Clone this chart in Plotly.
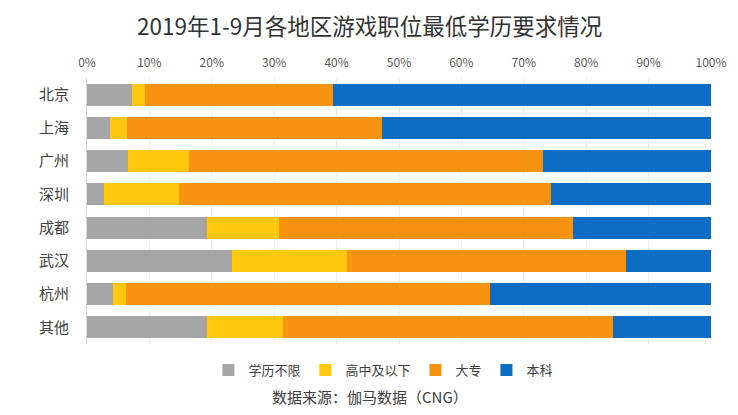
import plotly.graph_objects as go

# Regions (top to bottom) and share of each minimum-education requirement (%)
regions = ["北京", "上海", "广州", "深圳", "成都", "武汉", "杭州", "其他"]
no_limit = [7.2, 3.7, 6.6, 2.8, 19.2, 23.3, 4.2, 19.2]
high_school = [2.1, 2.7, 9.8, 11.9, 11.6, 18.3, 2.1, 12.2]
college = [30.2, 40.8, 56.6, 59.6, 47.1, 44.7, 58.3, 52.9]
bachelor = [60.5, 52.8, 27.0, 25.7, 22.1, 13.7, 35.4, 15.7]

series = [
    ("学历不限", no_limit, "#A5A5A5"),
    ("高中及以下", high_school, "#FFC80F"),
    ("大专", college, "#F7930F"),
    ("本科", bachelor, "#0C6DC2"),
]

font_family = "Noto Sans CJK SC"

fig = go.Figure()
for name, vals, color in series:
    fig.add_trace(go.Bar(
        y=regions,
        x=vals,
        name=name,
        orientation="h",
        marker=dict(color=color, line=dict(width=0)),
    ))

# the page body adds an 8px offset, so margins are set 8px tighter on top/left
fig.update_layout(
    barmode="stack",
    bargap=0.34,
    width=738,
    height=415,
    margin=dict(l=79, r=35, t=70, b=79, autoexpand=False),
    paper_bgcolor="white",
    plot_bgcolor="white",
    font=dict(family=font_family, color="#404040"),
    title=dict(
        text="2019年1-9月各地区游戏职位最低学历要求情况",
        x=0.49, xanchor="center",
        y=0.955, yanchor="middle",
        font=dict(size=22.5, color="#333333"),
    ),
    legend=dict(
        orientation="h",
        traceorder="normal",
        x=0.475, xanchor="center",
        y=-0.098, yanchor="middle",
        font=dict(size=13, color="#404040"),
        itemwidth=30,
    ),
    showlegend=True,
)

fig.update_xaxes(
    side="top",
    range=[0, 100],
    dtick=10,
    ticksuffix="%",
    tickfont=dict(size=12, color="#595959"),
    showgrid=True,
    gridcolor="#EFEFEF",
    zeroline=False,
    showline=False,
    ticks="",
    ticklabelstandoff=8,
    automargin=False,
)
fig.update_yaxes(
    autorange="reversed",
    tickfont=dict(size=15, color="#404040"),
    showline=True,
    linecolor="#D9D9D9",
    linewidth=1,
    ticks="",
    ticklabelstandoff=14,
    showgrid=False,
    automargin=False,
)

fig.add_annotation(
    text="数据来源：伽马数据（CNG）",
    xref="paper", yref="paper",
    x=0.4535, y=-0.199,
    xanchor="center", yanchor="middle",
    showarrow=False,
    font=dict(size=15, color="#404040"),
)

fig.write_html("out.html")
